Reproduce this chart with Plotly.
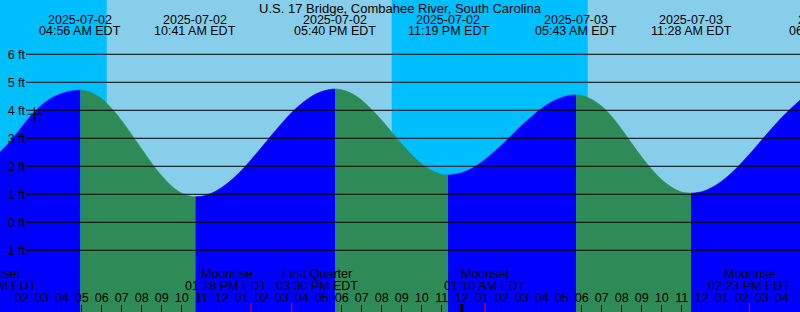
import numpy as np
import pandas as pd
import plotly.graph_objects as go

TITLE = "U.S. 17 Bridge, Combahee River, South Carolina"

# Tide heights (ft), every half hour
TIDE_TIMES = [
    "2025-07-02 00:54", "2025-07-02 01:00", "2025-07-02 01:30", "2025-07-02 02:00",
    "2025-07-02 02:30", "2025-07-02 03:00", "2025-07-02 03:30", "2025-07-02 04:00",
    "2025-07-02 04:30",
    "2025-07-02 05:00", "2025-07-02 05:30", "2025-07-02 06:00", "2025-07-02 06:30",
    "2025-07-02 07:00", "2025-07-02 07:30", "2025-07-02 08:00", "2025-07-02 08:30",
    "2025-07-02 09:00", "2025-07-02 09:30", "2025-07-02 10:00", "2025-07-02 10:30",
    "2025-07-02 11:00", "2025-07-02 11:30", "2025-07-02 12:00", "2025-07-02 12:30",
    "2025-07-02 13:00", "2025-07-02 13:30", "2025-07-02 14:00", "2025-07-02 14:30",
    "2025-07-02 15:00", "2025-07-02 15:30", "2025-07-02 16:00", "2025-07-02 16:30",
    "2025-07-02 17:00", "2025-07-02 17:30",
    "2025-07-02 18:00", "2025-07-02 18:30", "2025-07-02 19:00", "2025-07-02 19:30",
    "2025-07-02 20:00", "2025-07-02 20:30", "2025-07-02 21:00", "2025-07-02 21:30",
    "2025-07-02 22:00", "2025-07-02 22:30", "2025-07-02 23:00",
    "2025-07-02 23:30", "2025-07-03 00:00", "2025-07-03 00:30", "2025-07-03 01:00",
    "2025-07-03 01:30", "2025-07-03 02:00", "2025-07-03 02:30", "2025-07-03 03:00",
    "2025-07-03 03:30", "2025-07-03 04:00", "2025-07-03 04:30", "2025-07-03 05:00",
    "2025-07-03 05:30",
    "2025-07-03 06:00", "2025-07-03 06:30", "2025-07-03 07:00", "2025-07-03 07:30",
    "2025-07-03 08:00", "2025-07-03 08:30", "2025-07-03 09:00", "2025-07-03 09:30",
    "2025-07-03 10:00", "2025-07-03 10:30", "2025-07-03 11:00",
    "2025-07-03 11:30", "2025-07-03 12:00", "2025-07-03 12:30", "2025-07-03 13:00",
    "2025-07-03 13:30", "2025-07-03 14:00", "2025-07-03 14:30", "2025-07-03 15:00",
    "2025-07-03 15:30", "2025-07-03 16:00", "2025-07-03 16:30", "2025-07-03 16:55",
]
TIDE_FT = [
    2.51, 2.57, 2.95, 3.40,
    3.84, 4.19, 4.44, 4.60,
    4.69,
    4.72, 4.63, 4.41, 4.06,
    3.63, 3.13, 2.62, 2.11,
    1.66, 1.29, 1.04, 0.92,
    0.93, 1.04, 1.24, 1.52,
    1.86, 2.26, 2.68, 3.12,
    3.53, 3.92, 4.24, 4.50,
    4.67, 4.75,
    4.73, 4.60, 4.36, 4.03,
    3.64, 3.22, 2.80, 2.41,
    2.08, 1.85, 1.71,
    1.70, 1.77, 1.92, 2.15,
    2.44, 2.76, 3.11, 3.46,
    3.78, 4.07, 4.30, 4.46,
    4.54,
    4.53, 4.39, 4.14, 3.78,
    3.32, 2.82, 2.33, 1.89,
    1.52, 1.25, 1.08,
    1.04, 1.09, 1.24, 1.47,
    1.77, 2.13, 2.52, 2.94,
    3.35, 3.74, 4.09, 4.36,
]

# High / low tides
EXTREME_TIMES = ["2025-07-02 04:56", "2025-07-02 10:41", "2025-07-02 17:40",
                 "2025-07-02 23:19", "2025-07-03 05:43", "2025-07-03 11:28",
                 "2025-07-03 18:26"]
EXTREME_FT = [4.72, 0.91, 4.76, 1.69, 4.55, 1.04, 4.75]

SUNRISE = ["2025-07-02 06:15", "2025-07-03 06:18"]
SUNSET = ["2025-07-02 20:30", "2025-07-03 20:31"]

MOON_EVENTS = ["Moonset", "Moonrise", "First Quarter", "Moonset", "Moonrise"]
MOON_TIMES = ["2025-07-02 00:43", "2025-07-02 13:28", "2025-07-02 15:30",
              "2025-07-03 01:10", "2025-07-03 14:23"]
MOON_LABEL_SHIFT = [0, -25, 25, 0, 0]  # label placement (px), style only

DAY_BOUNDARIES = ["2025-07-03 00:00"]

NOW_TIME = ["2025-07-02 02:38"]
NOW_FT = [3.86]

Y_TICKS = [-1, 0, 1, 2, 3, 4, 5, 6]
X_RANGE = ["2025-07-02 00:54:54", "2025-07-03 16:54:54"]
Y_RANGE = [-3.204, 7.939]

W, H = 800, 312
FONT = "Liberation Sans, Arial, sans-serif"
FS = 12.5
RISE_COLOR = "#0000FF"
FALL_COLOR = "#2E8B57"
NIGHT_COLOR = "#00BFFF"
DAY_COLOR = "#87CEEB"

T0, T1 = pd.Timestamp(X_RANGE[0]), pd.Timestamp(X_RANGE[1])


def frac(ts):
    return (pd.Timestamp(ts) - T0) / (T1 - T0)


def ypaper(px):
    return 1 - px / H


# merge readings with extremes
ext = pd.DataFrame({"t": pd.to_datetime(EXTREME_TIMES), "h": EXTREME_FT})
rd = pd.DataFrame({"t": pd.to_datetime(TIDE_TIMES), "h": TIDE_FT})
tmin, tmax = rd.t.min(), rd.t.max()
ext_in = ext[(ext.t > tmin) & (ext.t < tmax)]
curve = pd.concat([rd, ext_in]).sort_values("t").reset_index(drop=True)

bounds = [tmin] + list(ext_in.t) + [tmax]

fig = go.Figure()
for b0, b1 in zip(bounds[:-1], bounds[1:]):
    seg = curve[(curve.t >= b0) & (curve.t <= b1)]
    rising = seg.h.iloc[-1] > seg.h.iloc[0]
    col = RISE_COLOR if rising else FALL_COLOR
    fig.add_trace(go.Scatter(x=seg.t, y=np.full(len(seg), Y_RANGE[0]), mode="lines",
                             line=dict(width=0, color=col), hoverinfo="skip",
                             showlegend=False))
    fig.add_trace(go.Scatter(x=seg.t, y=seg.h, mode="lines", fill="tonexty",
                             fillcolor=col, line=dict(width=0.6, color=col, shape="spline"),
                             hoverinfo="skip", showlegend=False))

fig.add_trace(go.Scatter(x=pd.to_datetime(NOW_TIME), y=NOW_FT, mode="markers",
                         marker=dict(symbol="cross-thin", size=10,
                                     line=dict(width=1, color="black")),
                         showlegend=False, hoverinfo="skip"))

shapes = []
for r, s in zip(SUNRISE, SUNSET):
    shapes.append(dict(type="rect", xref="x", yref="paper", x0=r, x1=s, y0=0, y1=1,
                       fillcolor=DAY_COLOR, line=dict(width=0), layer="below"))
for v in Y_TICKS:
    shapes.append(dict(type="line", xref="paper", yref="y", x0=26 / W, x1=1, y0=v, y1=v,
                       line=dict(color="black", width=1), layer="above"))
for t in MOON_TIMES:
    shapes.append(dict(type="line", xref="x", yref="paper", x0=t, x1=t, y0=0, y1=9 / H,
                       line=dict(color="red", width=1), layer="above"))
for t in DAY_BOUNDARIES:
    shapes.append(dict(type="line", xref="x", yref="paper", x0=t, x1=t, y0=0, y1=8 / H,
                       line=dict(color="black", width=3), layer="above"))

annotations = []
txt = dict(font=dict(family=FONT, size=FS, color="black"), showarrow=False,
           xref="paper", yref="paper", xanchor="center", yanchor="middle")
for t in EXTREME_TIMES:
    ts = pd.Timestamp(t)
    annotations.append(dict(x=frac(ts), y=ypaper(19.5), text=ts.strftime("%Y-%m-%d"), **txt))
    annotations.append(dict(x=frac(ts), y=ypaper(31.5),
                            text=ts.strftime("%I:%M %p") + " EDT", **txt))
for name, t, sh in zip(MOON_EVENTS, MOON_TIMES, MOON_LABEL_SHIFT):
    ts = pd.Timestamp(t)
    annotations.append(dict(x=frac(ts), y=ypaper(274), text=name, xshift=sh, **txt))
    annotations.append(dict(x=frac(ts), y=ypaper(286),
                            text=ts.strftime("%I:%M %p") + " EDT", xshift=sh, **txt))

fig.update_layout(
    width=W, height=H, margin=dict(l=0, r=0, t=0, b=0),
    plot_bgcolor=NIGHT_COLOR, paper_bgcolor=NIGHT_COLOR,
    font=dict(family=FONT, size=FS, color="black"),
    title=dict(text=TITLE, x=0.5, xanchor="center", y=1 - 8 / H, yanchor="middle",
               yref="container", font=dict(family=FONT, size=13, color="black")),
    shapes=shapes, annotations=annotations, hovermode=False, showlegend=False,
    xaxis=dict(type="date", range=X_RANGE, tickformat="%I", dtick=3600000,
               tick0="2025-07-02 00:00", ticks="inside", ticklen=7, tickwidth=1,
               tickcolor="black", ticklabelposition="inside",
               tickfont=dict(family=FONT, size=FS, color="black"),
               showgrid=False, zeroline=False, showline=False, fixedrange=True),
    yaxis=dict(range=Y_RANGE, anchor="free", position=25 / W, side="left",
               tickvals=Y_TICKS, ticktext=[f"{v} ft" for v in Y_TICKS], ticks="",
               tickfont=dict(family=FONT, size=FS, color="black"),
               showgrid=False, zeroline=False, showline=False, fixedrange=True),
)

fig.write_html("out.html")
